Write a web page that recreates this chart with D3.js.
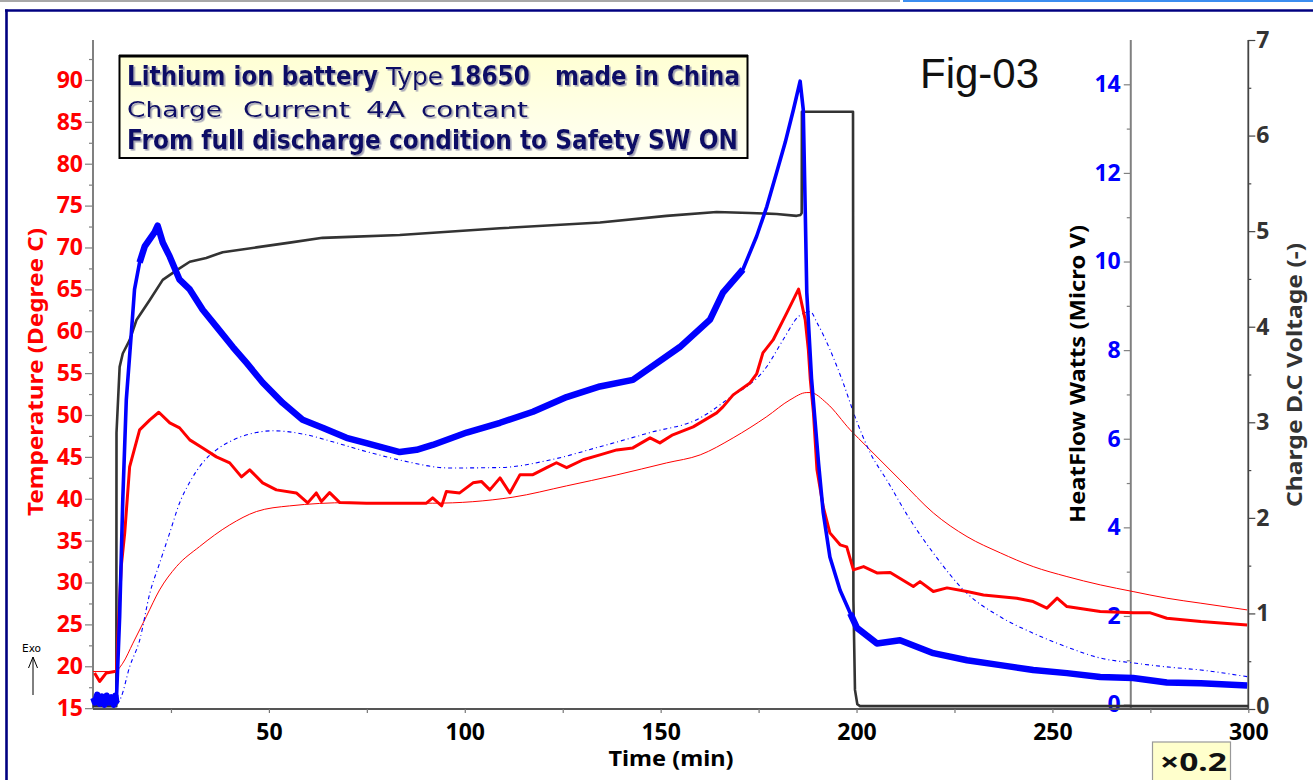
<!DOCTYPE html>
<html><head><meta charset="utf-8">
<script src="https://cdn.jsdelivr.net/npm/d3@7"></script>
<style>body{margin:0;background:#fff;}svg{display:block;}</style>
</head><body>
<svg id="chart" width="1313" height="780"></svg>
<script>
// ---------- data ----------
const timeTicks = [50, 100, 150, 200, 250, 300];
const timeMinorTicks = [25, 75, 125, 175, 225, 275];
const tempTicks = [15, 20, 25, 30, 35, 40, 45, 50, 55, 60, 65, 70, 75, 80, 85, 90];
const tempMinorTicks = [17.5, 22.5, 27.5, 32.5, 37.5, 42.5, 47.5, 52.5, 57.5, 62.5, 67.5, 72.5, 77.5, 82.5, 87.5, 92.5];
const heatTicks = [0, 2, 4, 6, 8, 10, 12, 14];
const heatMinorTicks = [1, 3, 5, 7, 9, 11, 13];
const voltTicks = [0, 1, 2, 3, 4, 5, 6, 7];
const voltMinorTicks = [0.5, 1.5, 2.5, 3.5, 4.5, 5.5, 6.5];

// Charge D.C voltage [time(min), V]
const voltage = [[5,0.03],[11.05,0.03],[11.1,2.89],[11.9,3.58],[12.7,3.72],[14.45,3.86],[16.2,4.07],[19.6,4.28],[22.9,4.49],[26.4,4.59],[29.8,4.68],[34.0,4.72],[38.2,4.78],[46.8,4.83],[55.3,4.88],[63.7,4.93],[70.6,4.94],[83.4,4.96],[109.0,5.03],[134.5,5.09],[151.5,5.16],[164.3,5.20],[172.8,5.19],[179.6,5.18],[184.7,5.16],[185.7,5.17],[186.0,5.19],[186.05,6.25],[199.1,6.25],[199.2,1.14],[199.6,0.2],[200.2,0.05],[200.9,0.03],[300,0.03]];

// Heat flow measured [time, micro V]
const heatFlow = [[5.2,0.15],[5.6,0.05],[6.2,0.22],[6.8,0.02],[7.4,0.18],[8,0.0],[8.6,0.2],[9.2,0.05],[9.8,0.16],[10.4,0.0],[10.8,0.2],[11.05,0.05],[11.9,1.98],[12.7,4.62],[13.6,6.88],[14.9,8.4],[15.7,9.37],[17.0,9.98],[18.3,10.34],[20.8,10.66],[21.6,10.81],[22.9,10.43],[24.7,10.11],[27.2,9.59],[29.8,9.37],[33.1,8.91],[36.6,8.53],[40.8,8.07],[44.3,7.71],[48.4,7.27],[53.5,6.81],[58.6,6.43],[63.7,6.25],[69.8,6.02],[74.9,5.9],[83.4,5.7],[87.7,5.75],[91.8,5.86],[100.5,6.14],[109.0,6.36],[117.4,6.61],[126.0,6.94],[134.5,7.18],[142.9,7.33],[154.9,8.07],[162.6,8.69],[165.9,9.3],[171.0,9.82],[174.5,10.57],[177.1,11.24],[179.6,12.01],[181.8,12.69],[183.9,13.43],[185.6,14.07],[186.4,13.43],[186.9,11.17],[187.3,9.3],[188.5,7.37],[190.3,5.45],[191.5,4.33],[193.2,3.33],[195.8,2.58],[198.4,2.06],[200.1,1.73],[205.2,1.38],[211.1,1.45],[219.6,1.16],[228.2,1.0],[236.7,0.89],[245.1,0.78],[253.7,0.71],[262.2,0.62],[270.6,0.6],[279.2,0.5],[287.9,0.48],[299.7,0.43]];

// Heat flow reference (dashed) [time, micro V]
const heatFlowRef = [[11.3,0.0],[12.3,0.17],[14.45,0.85],[17.0,1.45],[19.6,2.51],[22.1,3.19],[24.7,3.88],[27.2,4.55],[29.8,5.02],[33.1,5.46],[36.6,5.75],[40.8,5.97],[46.8,6.14],[51.0,6.18],[59.6,6.09],[66.3,5.93],[74.9,5.71],[83.4,5.52],[96.2,5.34],[109.0,5.35],[121.7,5.52],[134.5,5.82],[147.3,6.14],[160.1,6.47],[166.9,6.88],[177.1,7.63],[181.3,8.24],[185.2,8.76],[188.2,8.87],[189.9,8.62],[196.6,7.26],[199.6,6.5],[203.5,5.68],[207.7,5.07],[213.7,4.17],[219.6,3.42],[228.2,2.51],[236.7,1.98],[245.1,1.61],[253.7,1.3],[262.2,1.05],[270.6,0.94],[279.2,0.85],[287.9,0.78],[299.7,0.63]];

// Temperature measured [time, deg C]
const temperature = [[5.5,19.21],[6.8,18.18],[8.5,19.21],[10.6,19.37],[11.1,19.45],[11.5,23.99],[12.3,31.87],[13.2,35.93],[14.45,43.8],[17.0,48.22],[19.6,49.42],[21.9,50.33],[24.7,49.06],[27.2,48.46],[29.8,47.03],[33.1,46.07],[36.6,45.0],[40.0,44.28],[43.0,42.61],[45.1,43.45],[48.4,41.9],[51.9,41.06],[57.0,40.7],[59.9,39.51],[62.1,40.7],[63.4,39.66],[65.5,40.74],[68.1,39.54],[70.6,39.51],[74.9,39.47],[90.2,39.47],[91.8,40.1],[94.1,39.15],[95.3,40.86],[98.7,40.7],[102.1,41.9],[104.3,42.05],[106.4,41.06],[109.0,42.49],[111.5,40.7],[114.1,42.88],[117.4,42.88],[120.9,43.71],[123.4,44.3],[126.0,43.71],[130.2,44.66],[134.5,45.24],[138.8,45.83],[142.9,46.07],[147.3,47.27],[149.8,46.67],[153.1,47.63],[158.3,48.58],[164.3,50.25],[165.9,50.97],[168.5,52.4],[172.8,53.83],[174.5,54.9],[176.1,57.41],[178.7,58.96],[182.2,62.19],[185.2,65.02],[186.9,61.35],[187.7,57.77],[188.2,54.19],[189.0,50.25],[189.9,43.45],[191.5,39.03],[193.2,35.93],[195.8,34.5],[197.5,34.26],[199.2,31.51],[201.8,31.9],[205.2,31.15],[208.6,31.19],[214.5,29.52],[216.2,30.11],[219.6,28.92],[223.1,29.36],[228.2,28.92],[232.4,28.52],[240.9,28.13],[245.1,27.73],[248.6,26.94],[251.2,28.13],[253.7,27.13],[262.2,26.53],[270.6,26.38],[275.0,26.38],[279.2,25.74],[287.9,25.34],[299.7,24.94]];

// Temperature reference (thin) [time, deg C]
const temperatureRef = [[5.1,19.37],[10.6,19.37],[12.7,20.37],[15.3,22.76],[18.7,25.93],[22.1,29.12],[26.4,31.9],[32.3,34.29],[40.0,36.88],[46.8,38.47],[55.3,39.15],[70.6,39.54],[91.8,39.47],[112.3,40.19],[126.0,41.54],[138.8,42.85],[151.5,44.28],[160.1,45.24],[168.5,47.27],[177.1,49.81],[183.0,51.8],[187.3,52.68],[188.2,52.68],[192.4,51.41],[198.4,48.22],[202.6,46.23],[211.1,42.25],[219.6,38.31],[228.2,35.48],[236.7,33.54],[245.1,31.9],[253.7,30.71],[262.2,29.72],[270.6,28.92],[279.2,28.13],[287.9,27.53],[299.7,26.73]];

const heatAxisTime = 270;
// time ranges where the heat-flow trace is a wide noisy band
const heatNoisyRanges = [[5, 11.05], [17.0, 171.0], [198.4, 300]];

// ---------- drawing ----------
const svg = d3.select('#chart');
const plotTop = 40, plotBottom = 709, plotLeft = 93, plotRight = 1248.3;

const x = d3.scaleLinear().domain([5.1, 300]).range([plotLeft, plotRight]);
const yT = d3.scaleLinear().domain([14.9, 94.77]).range([plotBottom, plotTop]);
const yH = d3.scaleLinear().domain([-0.1, 15]).range([plotBottom, plotTop]);
const yV = d3.scaleLinear().domain([0, 7]).range([plotBottom, plotTop]);

const defs = svg.append('defs');
const grad = defs.append('linearGradient').attr('id','boxGrad').attr('x1',0).attr('y1',0).attr('x2',0).attr('y2',1);
grad.append('stop').attr('offset','0%').attr('stop-color','#ffffd4');
grad.append('stop').attr('offset','100%').attr('stop-color','#fffff4');
const shadow = defs.append('filter').attr('id','txtShadow').attr('x','-5%').attr('y','-20%').attr('width','110%').attr('height','150%');
shadow.append('feDropShadow').attr('dx',1.6).attr('dy',1.6).attr('stdDeviation',0.5)
  .attr('flood-color','#9898b0').attr('flood-opacity',0.9);

// outer frame
svg.append('rect').attr('x',0).attr('y',0).attr('width',900).attr('height',2).attr('fill','#a8a8a8');
svg.append('rect').attr('x',903).attr('y',0).attr('width',410).attr('height',2).attr('fill','#3b8ef0');
svg.append('line').attr('x1',5).attr('x2',1313).attr('y1',10.5).attr('y2',10.5).attr('stroke','#000080').attr('stroke-width',2.6);
svg.append('line').attr('x1',6.5).attr('x2',6.5).attr('y1',9.5).attr('y2',780).attr('stroke','#000080').attr('stroke-width',2.6);

const tickFont = '"Noto Sans", "DejaVu Sans", sans-serif';

function styleAxis(g, color, labelColor) {
  g.select('.domain').remove();
  g.selectAll('.tick line').attr('stroke', color).attr('stroke-width', 1.2);
  g.selectAll('.tick text').attr('fill', labelColor).style('font-family', tickFont)
    .style('font-weight', 'bold').style('font-size', '23px');
}

// axis lines
svg.append('line').attr('x1',plotLeft).attr('x2',plotLeft).attr('y1',plotTop).attr('y2',plotBottom).attr('stroke','#808080').attr('stroke-width',2);
svg.append('line').attr('x1',x(heatAxisTime)).attr('x2',x(heatAxisTime)).attr('y1',plotTop).attr('y2',plotBottom).attr('stroke','#808080').attr('stroke-width',2);
svg.append('line').attr('x1',plotRight).attr('x2',plotRight).attr('y1',plotTop).attr('y2',plotBottom+1).attr('stroke','#444').attr('stroke-width',1.8);

// left temperature axis
const gL = svg.append('g').attr('transform',`translate(${plotLeft},0)`)
  .call(d3.axisLeft(yT).tickValues(tempTicks).tickSize(8).tickPadding(2).tickFormat(d3.format('d')));
styleAxis(gL, '#808080', '#ff0000');
const gLm = svg.append('g').attr('transform',`translate(${plotLeft},0)`)
  .call(d3.axisLeft(yT).tickValues(tempMinorTicks).tickSize(4).tickFormat(''));
styleAxis(gLm, '#808080', '#ff0000');

// heat axis
const gH = svg.append('g').attr('transform',`translate(${x(heatAxisTime)},0)`)
  .call(d3.axisLeft(yH).tickValues(heatTicks).tickSize(7).tickPadding(3).tickFormat(d3.format('d')));
styleAxis(gH, '#808080', '#0000ff');
const gHm = svg.append('g').attr('transform',`translate(${x(heatAxisTime)},0)`)
  .call(d3.axisLeft(yH).tickValues(heatMinorTicks).tickSize(4).tickFormat(''));
styleAxis(gHm, '#808080', '#0000ff');

// voltage axis
const gV = svg.append('g').attr('transform',`translate(${plotRight},0)`)
  .call(d3.axisRight(yV).tickValues(voltTicks).tickSize(7).tickPadding(1).tickFormat(d3.format('d')));
styleAxis(gV, '#444', '#333333');
gV.selectAll('.tick text').attr('dy', d => d === 0 ? '0.2em' : '0.32em');
const gVm = svg.append('g').attr('transform',`translate(${plotRight},0)`)
  .call(d3.axisRight(yV).tickValues(voltMinorTicks).tickSize(3).tickFormat(''));
styleAxis(gVm, '#444', '#333333');

// x axis
svg.append('line').attr('x1',plotLeft).attr('x2',plotRight).attr('y1',plotBottom).attr('y2',plotBottom).attr('stroke','#555').attr('stroke-width',2);
const gX = svg.append('g').attr('transform',`translate(0,${plotBottom})`)
  .call(d3.axisBottom(x).tickValues(timeTicks).tickSize(4).tickPadding(11).tickFormat(d3.format('d')));
styleAxis(gX, '#777', '#000');
const gXm = svg.append('g').attr('transform',`translate(0,${plotBottom})`)
  .call(d3.axisBottom(x).tickValues(timeMinorTicks).tickSize(4).tickFormat(''));
styleAxis(gXm, '#777', '#000');

// axis titles
function title(txt, tx, ty, rot, color, len) {
  const t = svg.append('text').attr('transform',`translate(${tx},${ty}) rotate(${rot})`)
    .attr('text-anchor','middle').attr('fill',color)
    .style('font-family', tickFont).style('font-weight','bold').style('font-size','22px')
    .text(txt);
  if (len) t.attr('textLength', len).attr('lengthAdjust','spacingAndGlyphs');
  return t;
}
title('Temperature (Degree C)', 43, 372, -90, '#ff0000', 288);
title('HeatFlow Watts (Micro V)', 1085, 374, -90, '#000', 298);
title('Charge D.C Voltage (-)', 1302, 375, -90, '#333333', 264);
title('Time (min)', 671, 766, 0, '#000', 125);

// ---------- series ----------
const line = (yScale, curve) => d3.line().x(d => x(d[0])).y(d => yScale(d[1])).curve(curve || d3.curveLinear);

svg.append('path').datum(temperatureRef).attr('d', line(yT, d3.curveMonotoneX))
  .attr('fill','none').attr('stroke','#ff0000').attr('stroke-width',1);
svg.append('path').datum(heatFlowRef).attr('d', line(yH, d3.curveMonotoneX))
  .attr('fill','none').attr('stroke','#0000ff').attr('stroke-width',1.1).attr('stroke-dasharray','4,3,1,3');
svg.append('path').datum(voltage).attr('d', line(yV))
  .attr('fill','none').attr('stroke','#333333').attr('stroke-width',2.6).attr('stroke-linejoin','round');
svg.append('path').datum(temperature).attr('d', line(yT))
  .attr('fill','none').attr('stroke','#ff0000').attr('stroke-width',3).attr('stroke-linejoin','round');
svg.append('path').datum(heatFlow).attr('d', line(yH))
  .attr('fill','none').attr('stroke','#0000ff').attr('stroke-width',3.6).attr('stroke-linejoin','round');
// wider band for the noisy parts of the heat-flow trace
heatNoisyRanges.forEach(([a, b]) => {
  const seg = heatFlow.filter(d => d[0] >= a && d[0] <= b);
  svg.append('path').datum(seg).attr('d', line(yH))
    .attr('fill','none').attr('stroke','#0000ff').attr('stroke-width',6.5).attr('stroke-linejoin','round').attr('stroke-linecap','butt');
});

// ---------- annotation box ----------
svg.append('rect').attr('x',119.5).attr('y',56).attr('width',628).attr('height',102)
  .attr('fill','url(#boxGrad)').attr('stroke','#000').attr('stroke-width',2);
svg.append('line').attr('x1',119).attr('x2',748).attr('y1',56).attr('y2',56).attr('stroke','#000').attr('stroke-width',3);

const boxFont = '"DejaVu Sans", Verdana, sans-serif';
function boxText(str, tx, ty, len, size, bold) {
  svg.append('text').attr('x', tx).attr('y', ty)
    .attr('fill', '#0d0d66').attr('filter','url(#txtShadow)').style('font-family', boxFont)
    .style('font-weight', bold ? 'bold' : 'normal').style('font-size', size + 'px')
    .attr('textLength', len).attr('lengthAdjust', 'spacingAndGlyphs').text(str);
}
boxText('Lithium ion battery', 127, 85, 251, 27, true);
boxText('Type', 386, 85, 57, 24, false);
boxText('18650', 449, 85, 81, 27, true);
boxText('made in China', 555, 85, 185, 27, true);
boxText('Charge', 127, 116.5, 95, 22, false);
boxText('Current', 243, 116.5, 107, 22, false);
boxText('4A', 366, 116.5, 39, 22, false);
boxText('contant', 421, 116.5, 107, 22, false);
boxText('From full discharge condition to Safety SW ON', 127, 149, 611, 26, true);

// Fig label
svg.append('text').attr('x', 920).attr('y', 88).attr('fill','#111')
  .style('font-family','"Liberation Sans", Arial, sans-serif').style('font-size','42px').text('Fig-03');

// Exo arrow
svg.append('text').attr('x', 22).attr('y', 652).attr('fill','#000')
  .style('font-family','"DejaVu Sans", sans-serif').style('font-size','11px')
  .attr('textLength',19).attr('lengthAdjust','spacingAndGlyphs').text('Exo');
svg.append('line').attr('x1',33).attr('x2',33).attr('y1',695).attr('y2',657).attr('stroke','#000').attr('stroke-width',1);
svg.append('polyline').attr('points','28.5,668 33,657 37.5,668').attr('fill','none').attr('stroke','#000').attr('stroke-width',1);

// x0.2 box
svg.append('rect').attr('x',1152.5).attr('y',742).attr('width',78).attr('height',45)
  .attr('fill','#ffffcc').attr('stroke','#999').attr('stroke-width',1.2);
svg.append('text').attr('x',1160).attr('y',771).attr('fill','#111')
  .style('font-family', tickFont).style('font-weight','bold').style('font-size','25px')
  .attr('textLength',67).attr('lengthAdjust','spacingAndGlyphs').text('×0.2');
</script>
</body></html>
